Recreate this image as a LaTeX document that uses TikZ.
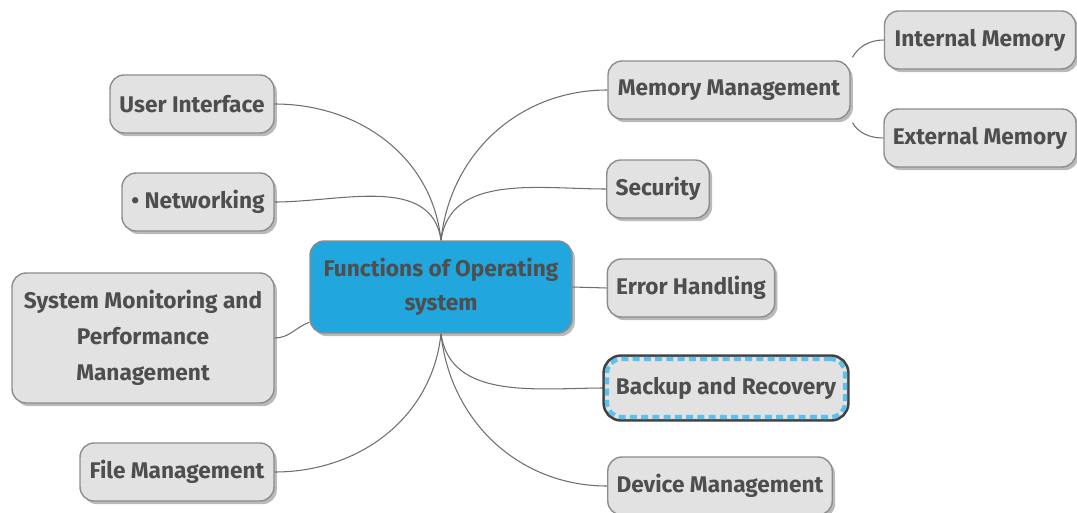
\documentclass[tikz,border=0pt]{standalone}
\usepackage{fontspec}
\setmainfont{Fira Sans}
\usetikzlibrary{shadows}
\usetikzlibrary{backgrounds}
\definecolor{boxgray}{HTML}{E2E2E2}
\definecolor{edgegray}{HTML}{8C8C8C}
\definecolor{textgray}{HTML}{4E4E4E}
\definecolor{linkgray}{HTML}{6E6E6E}
\definecolor{topicblue}{HTML}{21A6DD}
\definecolor{dashblue}{HTML}{5CC0EA}

\begin{document}
\begin{tikzpicture}[x=0.02cm,y=-0.02cm,
	topic/.style={draw=edgegray, fill=boxgray, line width=0.8pt, rounded corners=8pt,
		text=textgray, font=\fontsize{12.9}{20.4}\selectfont\bfseries, align=center,
		minimum height=1.16cm, inner xsep=5pt,
		drop shadow={shadow xshift=1.6pt, shadow yshift=-1.8pt, opacity=0.45, fill=black!60}},
	link/.style={draw=linkgray, line width=0.6pt}]

	\useasboundingbox (0,0) rectangle (1077,513);

	%Central topic
	\node [topic, fill=topicblue, minimum width=5.24cm, minimum height=1.84cm,
		font=\fontsize{12.9}{19.4}\selectfont\bfseries](fos) at (441,287) {Functions of Operating\\system};

	%Left side
	\node [topic, minimum width=3.28cm](ui) at (192,104) {User Interface};
	\node [topic, minimum width=3.04cm](net) at (198,202) {\textbullet{} Networking};
	\node [topic, minimum width=5.24cm, minimum height=2.6cm](smp) at (143,338) {System Monitoring and\\Performance\\Management};
	\node [topic, minimum width=3.88cm](fm) at (177,472) {File Management};

	%Right side
	\node [topic, minimum width=4.84cm](mm) at (729,90) {Memory Management};
	\node [topic, minimum width=3.82cm](im) at (980,40) {Internal Memory};
	\node [topic, minimum width=3.82cm](em) at (980,138) {External Memory};
	\node [topic, minimum width=2.0cm](sec) at (658,189) {Security};
	\node [topic, minimum width=3.32cm](eh) at (691,288) {Error Handling};
	\node [topic, draw=boxgray, line width=2.4pt,
		preaction={draw=black!75, line width=5.4pt},
		postaction={draw=dashblue, line width=2.4pt, dash pattern=on 4pt off 2.4pt},
		minimum width=4.74cm](br) at (726,388) {Backup and Recovery};
	\node [topic, minimum width=4.48cm](dm) at (720,486) {Device Management};

	%Connectors
	\begin{scope}[on background layer]
		\draw [link] (fos.north) to[out=96,in=0] (ui.east);
		\draw [link] (fos.north) to[out=98,in=0] (net.east);
		\draw [link] (fos.195) to[out=200,in=0] (smp.east);
		\draw [link] (fos.south) to[out=-96,in=0] (fm.east);
		\draw [link] (fos.north) to[out=84,in=180] (mm.west);
		\draw [link] (fos.north) to[out=82,in=180] (sec.west);
		\draw [link] (fos.east) -- (eh.west);
		\draw [link] (fos.south) to[out=-82,in=180] (br.west);
		\draw [link] (fos.south) to[out=-84,in=180] (dm.west);
		\draw [link, shorten <=2pt] (mm.north east) to[out=60,in=180] (im.west);
		\draw [link, shorten <=2pt] (mm.south east) to[out=-60,in=180] (em.west);
	\end{scope}

\end{tikzpicture}
\end{document}
